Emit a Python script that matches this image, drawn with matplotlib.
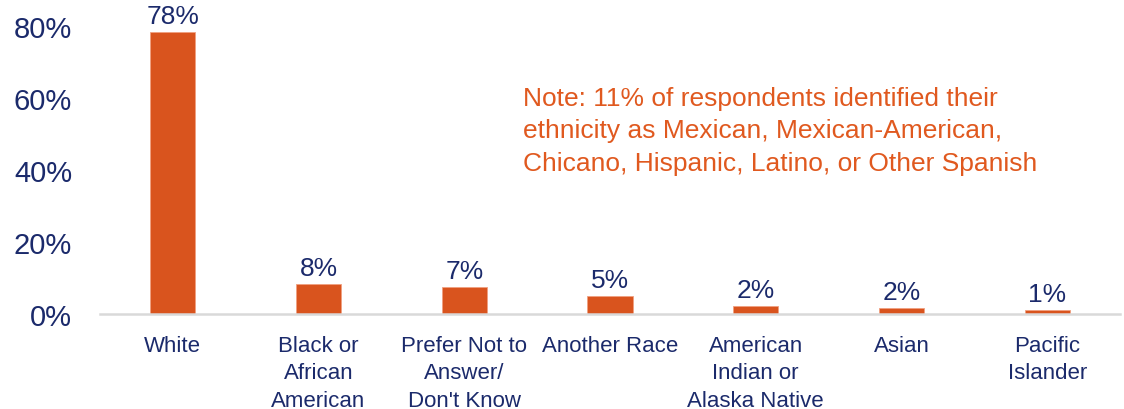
import matplotlib
matplotlib.use("Agg")
import matplotlib.pyplot as plt

categories = ["White", "Black or\nAfrican\nAmerican", "Prefer Not to\nAnswer/\nDon't Know",
              "Another Race", "American\nIndian or\nAlaska Native", "Asian", "Pacific\nIslander"]
values = [78.3, 8.3, 7.4, 5.0, 2.2, 1.6, 1.1]
value_labels = ["78%", "8%", "7%", "5%", "2%", "2%", "1%"]
yticks = [0, 20, 40, 60, 80]
ytick_labels = ["0%", "20%", "40%", "60%", "80%"]
note = ("Note: 11% of respondents identified their\n"
        "ethnicity as Mexican, Mexican-American,\n"
        "Chicano, Hispanic, Latino, or Other Spanish")

NAVY = "#1B2A6B"
ORANGE = "#D9541E"
NOTE_C = "#E0591F"

plt.rcParams['font.family'] = ['Liberation Sans', 'DejaVu Sans']

fig = plt.figure(figsize=(11.24, 4.10), dpi=100)
ax = fig.add_axes([100/1124, 1-315/410, 1020/1124, 288/410])

x = list(range(len(categories)))
ax.bar(x, values, width=0.31, color=ORANGE, edgecolor="#F0A080", linewidth=0.6, zorder=2)
for xi, v, lab in zip(x, values, value_labels):
    ax.annotate(lab, (xi, v), xytext=(0, 3), textcoords="offset points",
                ha="center", va="bottom", fontsize=19, color=NAVY, annotation_clip=False)

ax.set_xlim(-0.5, len(categories) - 0.5)
ax.set_ylim(0, 80)
ax.set_yticks(yticks)
ax.set_yticklabels(ytick_labels, fontsize=21, color=NAVY)
ax.set_xticks(x)
ax.set_xticklabels(categories, fontsize=16, color=NAVY, linespacing=1.4)
ax.tick_params(axis="both", length=0)
ax.tick_params(axis="x", pad=15)
ax.tick_params(axis="y", pad=20)
for s in ["top", "right", "left"]:
    ax.spines[s].set_visible(False)
ax.spines["bottom"].set_color("#D9D9D9")
ax.spines["bottom"].set_linewidth(1.8)
ax.spines["bottom"].set_zorder(3)

ax.text(0.415, 0.793, note, transform=ax.transAxes, ha="left", va="top",
        fontsize=19, color=NOTE_C, linespacing=1.45)

fig.savefig("out.png", dpi=100)
